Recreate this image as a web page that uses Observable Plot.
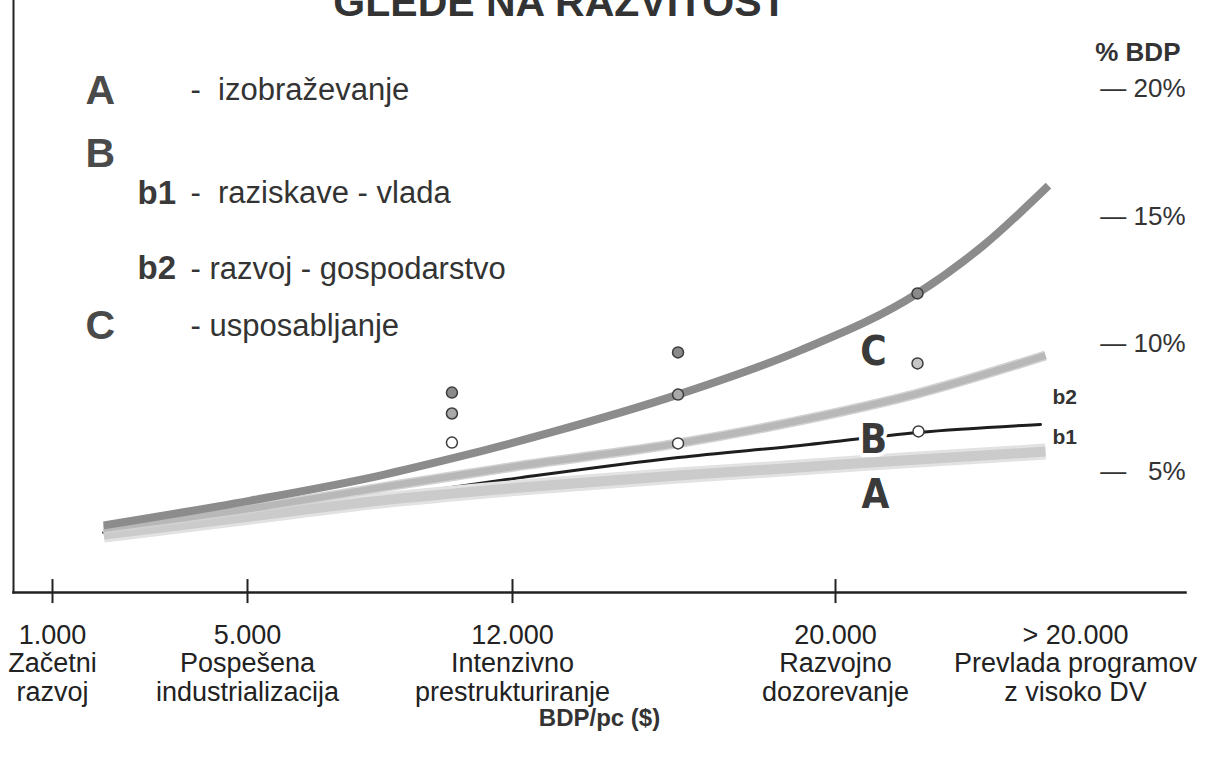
<!DOCTYPE html>
<html><head><meta charset="utf-8">
<script src="https://cdn.jsdelivr.net/npm/d3@7"></script>
<script src="https://cdn.jsdelivr.net/npm/@observablehq/plot@0.6"></script>
<style>
html,body{margin:0;padding:0;background:#fff;overflow:hidden}
#wrap{position:relative;width:1210px;height:764px}
#title{position:absolute;left:0;width:1120px;text-align:center;top:-18px;font:bold 41px 'Liberation Sans',Arial,sans-serif;line-height:40px;color:#333;white-space:nowrap;z-index:2}
#chart{position:absolute;left:0;top:0}
</style></head><body>
<div id="wrap"><div id="title">GLEDE NA RAZVITOST</div><div id="chart"></div></div>
<script>
// ---- data ----
const stageValues = [1000, 5000, 12000, 20000, 26000];
const stageLabels = ["1.000\nZačetni\nrazvoj", "5.000\nPospešena\nindustrializacija", "12.000\nIntenzivno\nprestrukturiranje", "20.000\nRazvojno\ndozorevanje", "> 20.000\nPrevlada programov\nz visoko DV"];
const tickedStages = [1000, 5000, 12000, 20000];
const pctTicks = [5, 10, 15, 20];

const gdpC  = [2050, 5080, 8500, 10400, 12950, 16100, 19130, 22050, 23700, 25325];
const pctC  = [2.90, 3.87, 4.85, 5.52, 6.54, 8.02, 9.75, 11.98, 13.86, 16.20];
const gdpB2 = [2050, 5080, 8500, 12200, 16100, 19130, 22050, 25250];
const pctB2 = [2.78, 3.56, 4.38, 5.24, 6.11, 7.01, 8.06, 9.55];
const gdpB1 = [2050, 5080, 8500, 12200, 16100, 19130, 22075, 25125];
const pctB1 = [2.62, 3.33, 3.99, 4.77, 5.56, 6.03, 6.54, 6.85];
const gdpA  = [2050, 5080, 8500, 12200, 16100, 20875, 25250];
const pctA  = [2.54, 3.25, 3.87, 4.38, 4.85, 5.36, 5.79];

const pointGdp  = [10400, 10400, 10400, 16100, 16100, 16100, 22050, 22050, 22075];
const pointPct  = [8.10, 7.28, 6.14, 9.67, 8.02, 6.11, 11.98, 9.24, 6.58];
const pointKind = ["dark", "mid", "open", "dark", "mid", "open", "dark", "light", "open"];

const curveLabelText = ["C", "B", "A"];
const curveLabelGdp  = [20950, 20950, 21000];
const curveLabelPct  = [9.67, 6.22, 4.07];
const endLabelText = ["b2", "b1"];
const endLabelGdp  = [25425, 25425];
const endLabelPct  = [7.91, 6.34];

const legendBigKeys = ["A", "B", "C"];
const legendBigPct  = [19.92, 17.46, 10.72];
const legendSubKeys = ["b1", "b2"];
const legendSubPct  = [15.89, 12.95];
const legendDesc    = ["-  izobraževanje", "-  raziskave - vlada", "- razvoj - gospodarstvo", "- usposabljanje"];
const legendDescPct = [19.92, 15.89, 12.95, 10.72];

// ---- tables ----
const zip = (xs, ys) => xs.map((x, i) => ({x, y: ys[i]}));
const curveC = zip(gdpC, pctC), curveB2 = zip(gdpB2, pctB2), curveB1 = zip(gdpB1, pctB1), curveA = zip(gdpA, pctA);
const points = pointGdp.map((x, i) => ({x, y: pointPct[i], kind: pointKind[i]}));
const stages = stageValues.map((v, i) => ({v, label: stageLabels[i]}));
const fillOf = {dark: "#8a8a8a", mid: "#a9a9a9", light: "#c6c6c6", open: "#ffffff"};

const SANS = "'Liberation Sans', Arial, sans-serif";
const NARROW = "'Liberation Sans Narrow', 'Arial Narrow', 'DejaVu Sans Condensed', sans-serif";

const chart = Plot.plot({
  width: 1210, height: 764,
  marginLeft: 13, marginRight: 25, marginTop: 0, marginBottom: 172,
  x: {type: "linear", domain: [1000, 5000, 12000, 20000, 26000], range: [52, 247, 512, 835, 1075], axis: null},
  y: {type: "linear", domain: [0, 20], range: [599, 88], axis: null},
  style: {fontFamily: SANS, background: "transparent", color: "#222"},
  marks: [
    Plot.frame({anchor: "left", stroke: "#222", strokeWidth: 2}),
    Plot.frame({anchor: "bottom", stroke: "#222", strokeWidth: 2.5}),
    Plot.ruleX(tickedStages, {x: d => d, y1: -0.16, y2: 0.78, stroke: "#222", strokeWidth: 2}),
    Plot.text(stages, {x: "v", text: "label", frameAnchor: "bottom", lineAnchor: "top", dy: 31, fontSize: 27, lineHeight: 1.056, fill: "#222"}),
    Plot.text(["BDP/pc ($)"], {frameAnchor: "bottom", dy: 133, fontSize: 24, fontWeight: "bold", fill: "#333", ariaLabel: "xtitle"}),
    // curves
    Plot.line(curveB1, {x: "x", y: "y", stroke: "#1e1e1e", strokeWidth: 3, curve: "monotone-x"}),
    Plot.line(curveA, {x: "x", y: "y", stroke: "#e2e2e2", strokeWidth: 16, curve: "monotone-x", strokeLinecap: "butt"}),
    Plot.line(curveA, {x: "x", y: "y", stroke: "#cbcbcb", strokeWidth: 10, curve: "monotone-x", strokeLinecap: "butt"}),
    Plot.line(curveB2, {x: "x", y: "y", stroke: "#d2d2d2", strokeWidth: 10, curve: "monotone-x", strokeLinecap: "butt"}),
    Plot.line(curveB2, {x: "x", y: "y", stroke: "#b8b8b8", strokeWidth: 7, curve: "monotone-x", strokeLinecap: "butt"}),
    Plot.line(curveC, {x: "x", y: "y", stroke: "#8c8c8c", strokeWidth: 8, curve: "monotone-x", strokeLinecap: "butt"}),
    Plot.dot(points, {x: "x", y: "y", r: 5.5, fill: d => fillOf[d.kind], stroke: "#3c3c3c", strokeWidth: 1.5}),
    // labels on curves
    Plot.text(curveLabelText, {x: (d, i) => curveLabelGdp[i], y: (d, i) => curveLabelPct[i], text: d => d, fontSize: 40, fontWeight: "bold", fontFamily: NARROW, fill: "#3a3a3a", stroke: "white", strokeWidth: 8}),
    Plot.text(endLabelText, {x: (d, i) => endLabelGdp[i], y: (d, i) => endLabelPct[i], text: d => d, textAnchor: "start", fontSize: 21, fontWeight: "bold", fill: "#333", ariaLabel: "endlabels"}),
    // right axis
    Plot.text(pctTicks, {y: d => d, text: d => "— " + (d < 10 ? "\u2007" : "") + d + "%", frameAnchor: "right", textAnchor: "end", fontSize: 26, fill: "#333"}),
    Plot.text(["% BDP"], {frameAnchor: "top-right", textAnchor: "end", dx: -5, dy: 42, fontSize: 26, fontWeight: "bold", fill: "#333", ariaLabel: "ytitle"}),
    // legend
    Plot.text(legendBigKeys, {y: (d, i) => legendBigPct[i], text: d => d, frameAnchor: "left", textAnchor: "start", dx: 72, fontSize: 41, fontWeight: "bold", fill: "#4a4a4a"}),
    Plot.text(legendSubKeys, {y: (d, i) => legendSubPct[i], text: d => d, frameAnchor: "left", textAnchor: "start", dx: 124, fontSize: 33, fontWeight: "bold", fill: "#3a3a3a"}),
    Plot.text(legendDesc, {y: (d, i) => legendDescPct[i], text: d => d, frameAnchor: "left", textAnchor: "start", dx: 177, fontSize: 31, fill: "#333"})
  ]
});
document.getElementById("chart").appendChild(chart);
for (const [lbl, sp] of [["xtitle", "2px"], ["ytitle", "3px"], ["endlabels", "2px"]]) {
  chart.querySelectorAll(`g[aria-label="${lbl}"] text`).forEach(t => t.style.letterSpacing = sp);
}
</script>
</body></html>
